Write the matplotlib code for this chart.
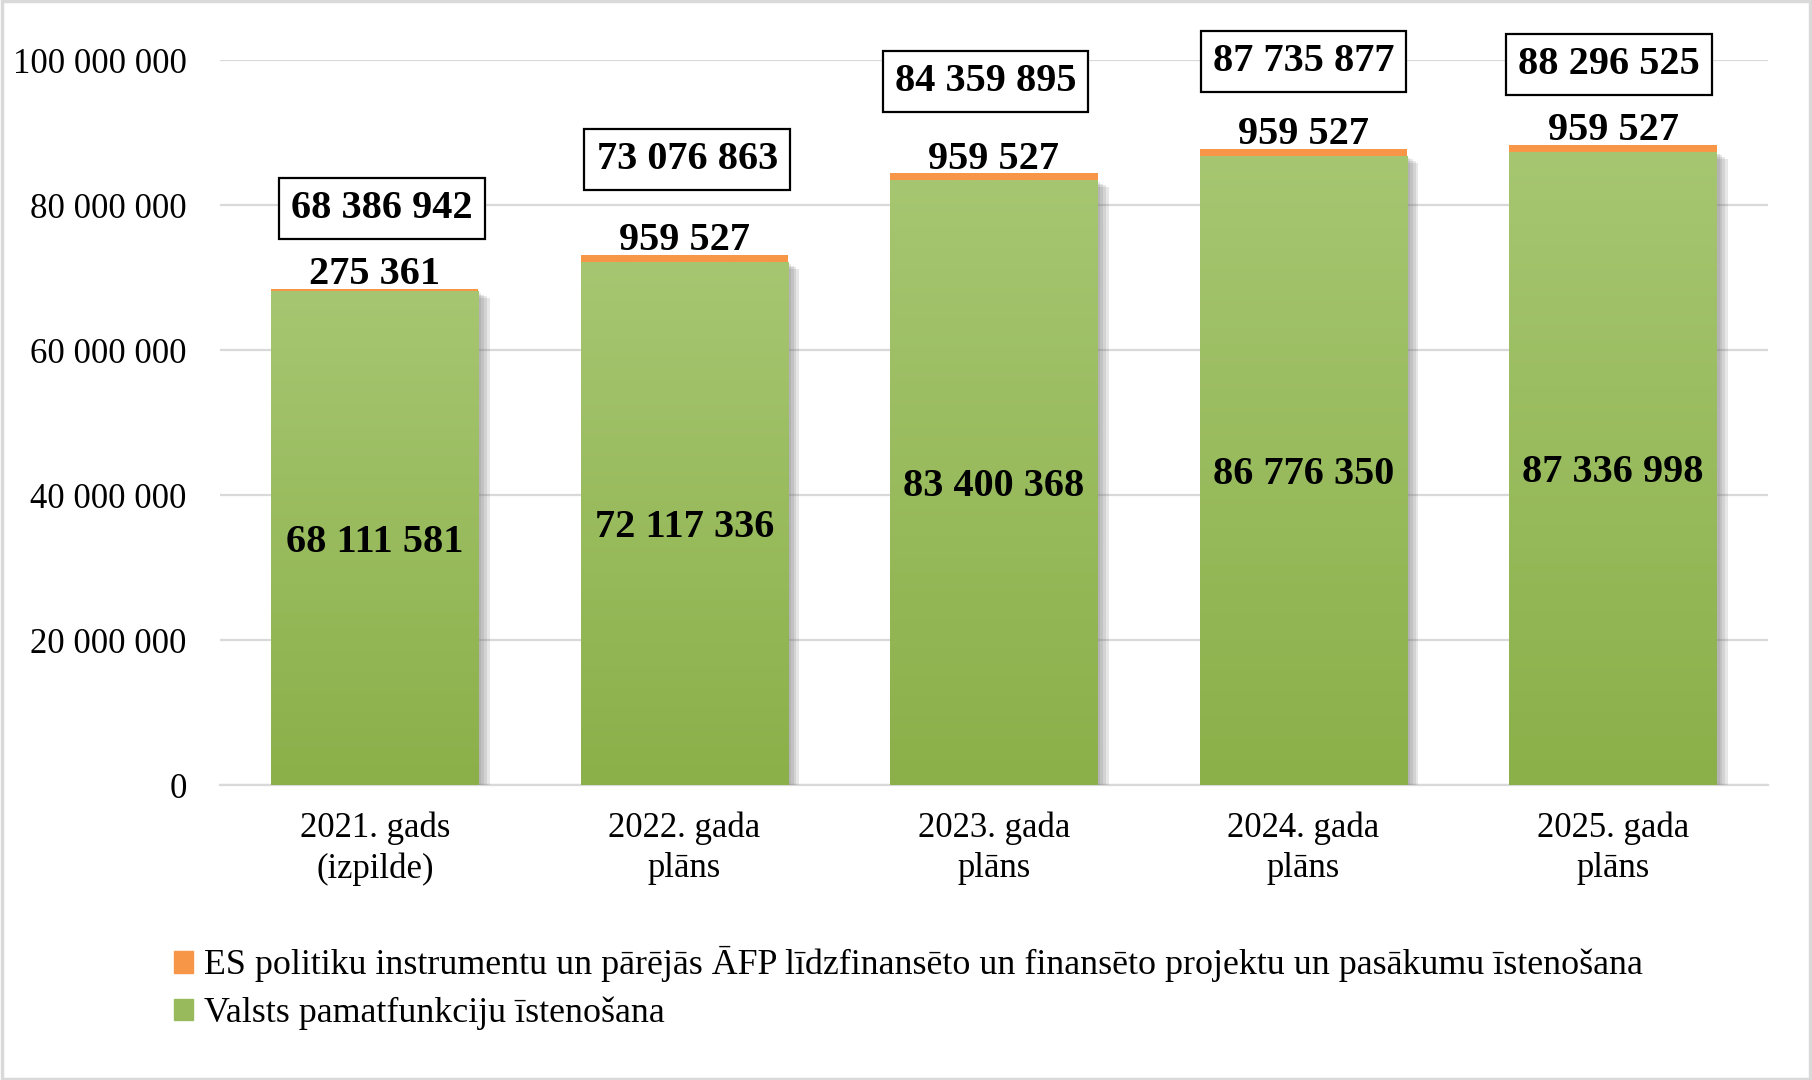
import numpy as np
import matplotlib
matplotlib.use("Agg")
import matplotlib.pyplot as plt
import matplotlib.patheffects as pe
from matplotlib.patches import Patch
from matplotlib.colors import LinearSegmentedColormap

plt.rcParams['font.family'] = ['Liberation Serif', 'DejaVu Serif']

categories = ["2021. gads\n(izpilde)", "2022. gada\nplāns", "2023. gada\nplāns",
              "2024. gada\nplāns", "2025. gada\nplāns"]
valsts = [68111581, 72117336, 83400368, 86776350, 87336998]
es_proj = [275361, 959527, 959527, 959527, 959527]
totals = [68386942, 73076863, 84359895, 87735877, 88296525]
yticks = [0, 20000000, 40000000, 60000000, 80000000, 100000000]

legend_labels = ["ES politiku instrumentu un pārējās ĀFP līdzfinansēto un finansēto projektu un pasākumu īstenošana",
                 "Valsts pamatfunkciju īstenošana"]

# how far (pt) each total box sits above its bar
box_lift = [58, 69, 66, 63, 58]
box_dx = [5, 2, -6, 0, -3]

def fmt(v):
    return f"{v:,}".replace(",", " ")

fig = plt.figure(figsize=(18.12, 10.8), dpi=100)
ax = fig.add_axes([0.1214, 0.2731, 0.8543, 0.6713])

x = np.arange(len(categories))
w = 0.67
shadow = [pe.SimplePatchShadow(offset=(o, -o * 0.6), shadow_rgbFace='#6f6f6f', alpha=0.16)
          for o in (2, 4, 6, 8)] + [pe.Normal()]

green = ax.bar(x, valsts, width=w, color='#98ba5c', zorder=3, path_effects=shadow)
orange = ax.bar(x, es_proj, width=w, bottom=valsts, color='#f79646', zorder=3)

# vertical gradient on the green bars
cmap = LinearSegmentedColormap.from_list('g', ['#8bb049', '#a6c671'])
grad = np.linspace(0, 1, 256).reshape(-1, 1)
for p in green:
    x0, y0 = p.get_x(), p.get_y()
    im = ax.imshow(grad, cmap=cmap, aspect='auto', origin='lower',
                   extent=[x0, x0 + p.get_width(), y0, y0 + p.get_height()], zorder=4)
    im.set_clip_path(p)

ax.set_xlim(-0.5, len(categories) - 0.5)
ax.set_ylim(0, 100000000)
ax.set_yticks(yticks)
ax.set_yticklabels([fmt(v) for v in yticks])
ax.set_xticks(x)
ax.set_xticklabels(categories)
ax.tick_params(axis='y', length=0, pad=24, labelsize=25)
ax.tick_params(axis='x', length=0, pad=19, labelsize=25)
for lab in ax.get_xticklabels():
    lab.set_linespacing(1.3)

ax.grid(axis='y', color='#d9d9d9', linewidth=1.6, zorder=0)
ax.set_axisbelow(True)
for s in ['top', 'right', 'left']:
    ax.spines[s].set_visible(False)
ax.spines['bottom'].set_color('#d9d9d9')
ax.spines['bottom'].set_linewidth(1.6)

for i in range(len(categories)):
    ax.annotate(fmt(valsts[i]), (x[i], valsts[i] / 2), xytext=(0, -3), textcoords='offset points',
                ha='center', va='center', fontsize=29, fontweight='bold', zorder=6)
    ax.annotate(fmt(es_proj[i]), (x[i], totals[i]), xytext=(0, -3), textcoords='offset points',
                ha='center', va='bottom', fontsize=29, fontweight='bold', zorder=6)
    ax.annotate(fmt(totals[i]), (x[i], totals[i]), xytext=(box_dx[i], box_lift[i]),
                textcoords='offset points', ha='center', va='center', fontsize=29,
                fontweight='bold', zorder=6,
                bbox=dict(boxstyle='square,pad=0.3', fc='white', ec='black', lw=1.6),
                annotation_clip=False)

handles = [Patch(color='#f79646'), Patch(color='#98ba5c')]
fig.legend(handles, legend_labels, loc='upper left', bbox_to_anchor=(0.088, 0.137),
           frameon=False, fontsize=25.8, handlelength=0.55, handleheight=0.55,
           handletextpad=0.3, labelspacing=0.4, borderaxespad=0)

fig.patches.append(plt.Rectangle((0.001, 0.001), 0.998, 0.998, transform=fig.transFigure,
                                 fill=False, ec='#d9d9d9', lw=2.5))

fig.savefig('out.png', dpi=100, facecolor='white')
